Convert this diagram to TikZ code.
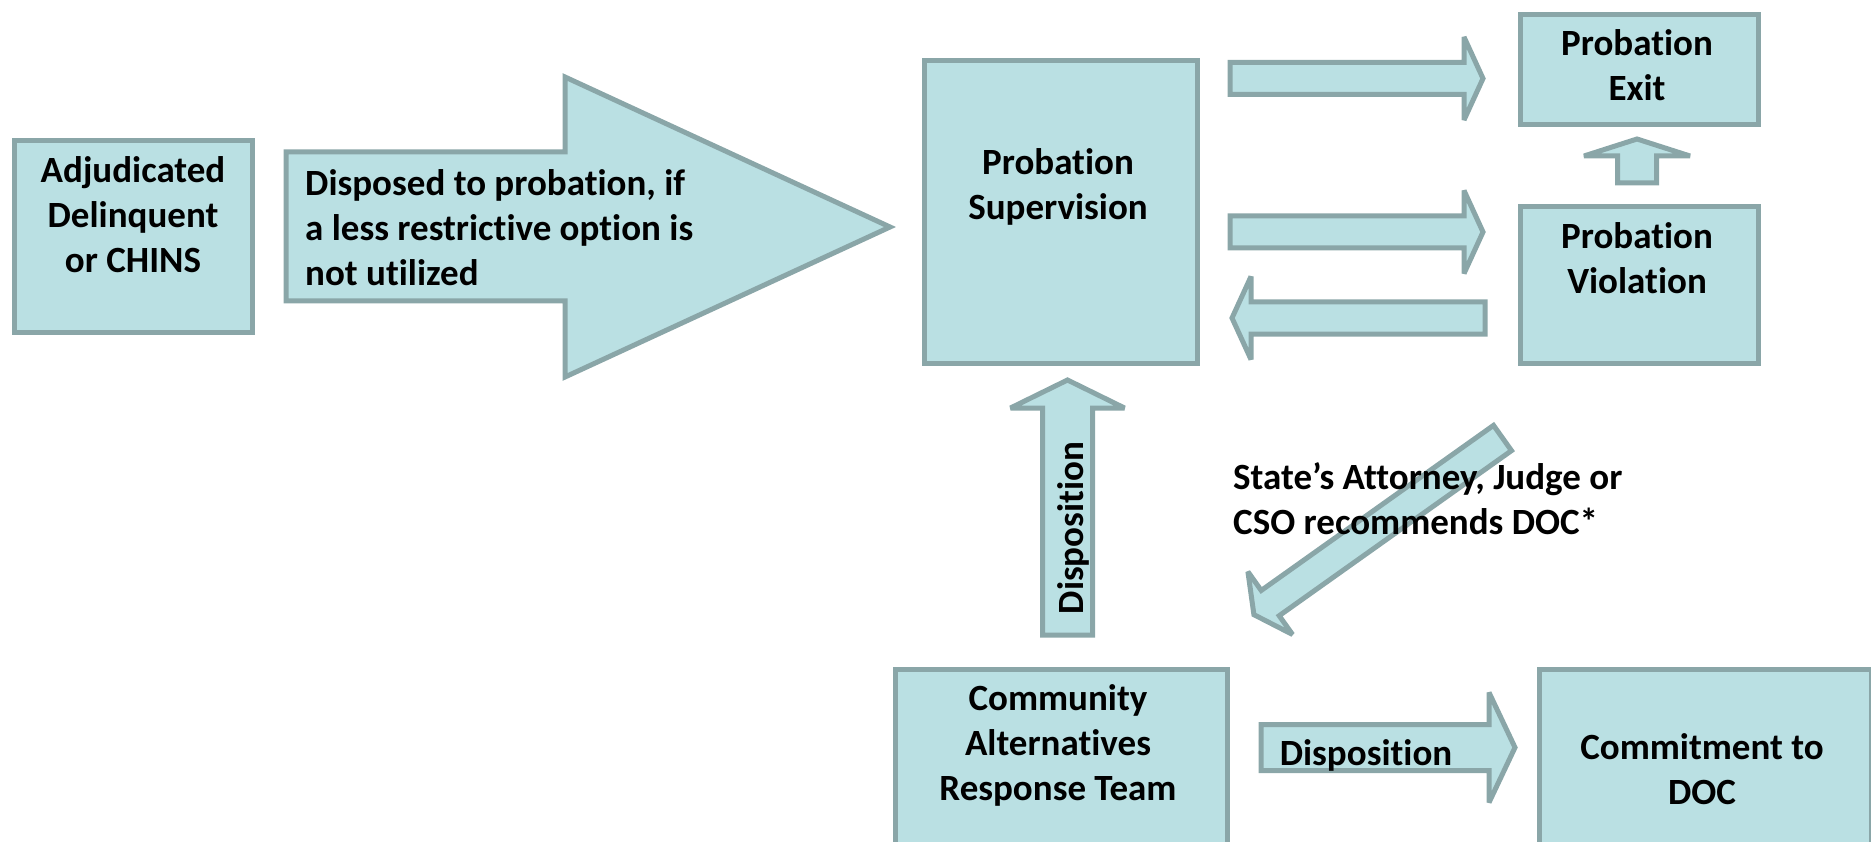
\documentclass[tikz,border=0pt]{standalone}
\usepackage{fontspec}
\setmainfont{Carlito}[Ligatures={NoCommon,NoContextual}]
\definecolor{boxfill}{RGB}{186,224,227}
\definecolor{boxline}{RGB}{138,166,168}
\tikzset{
  box/.style={draw=boxline,fill=boxfill,line width=5pt,anchor=north west,inner sep=0pt},
  blockarrow/.style={draw=boxline,fill=boxfill,line width=5pt,line join=miter,miter limit=4},
  lbl/.style={font=\fontsize{37}{45}\selectfont\bfseries,align=center,inner sep=0pt},
  pics/barrow/.style n args={4}{code={
    \draw[blockarrow] (0,-#2) -- ({#1-#4},-#2) -- ({#1-#4},-#3) -- (#1,0)
      -- ({#1-#4},#3) -- ({#1-#4},#2) -- (0,#2) -- cycle;
  }}
}
\begin{document}
\begin{tikzpicture}[x=1pt,y=-1pt]
\useasboundingbox (0,0) rectangle (1871,842);
\clip (0,0) rectangle (1871,842);

% boxes
\node[box,minimum width=238pt,minimum height=192pt] (adj) at (12,138) {};
\node[box,minimum width=273pt,minimum height=303pt] (sup) at (922,58) {};
\node[box,minimum width=238pt,minimum height=110pt] (exit) at (1518,12) {};
\node[box,minimum width=238pt,minimum height=157pt] (viol) at (1518,204) {};
\node[box,minimum width=332pt,minimum height=200pt] (cart) at (893,667) {};
\node[box,minimum width=332pt,minimum height=200pt] (doc) at (1537,667) {};

% big arrow
\draw[blockarrow] (286,152) -- (565,152) -- (565,77) -- (890,227) -- (565,377)
  -- (565,301) -- (286,301) -- cycle;

% block arrows
\pic at (1230,78.5) {barrow={253}{16}{41.5}{19}};
\pic at (1230,232) {barrow={253}{16}{41.5}{19}};
\pic[rotate=180] at (1485,318) {barrow={253}{16}{41.5}{19}};
\pic at (1261,747.5) {barrow={254}{23}{55}{26}};
\pic[rotate=90] at (1067.5,635) {barrow={255}{25}{57}{28}};
\pic[rotate=90] at (1637,183) {barrow={44}{19.5}{53}{17}};
\pic[rotate=215.4] at (1502.5,438) {barrow={305}{15.5}{38.5}{20}};

% texts
\node[lbl] (adjt) at (133,215) {Adjudicated\\Delinquent\\or CHINS};
\node[lbl,align=left,anchor=west] (dispt) at (305,228)
  {Disposed to probation, if\\a less restrictive option is\\not utilized};
\node[lbl] (supt) at (1058,187) {Probation\\Supervision};
\node[lbl] (exitt) at (1637,65) {Probation\\Exit};
\node[lbl] (violt) at (1637,258) {Probation\\Violation};
\node[lbl] (cartt) at (1058,745) {Community\\Alternatives\\Response Team};
\node[lbl] (doct) at (1702,769) {Commitment to\\DOC};
\node[lbl,align=left,anchor=west] (statet) at (1233,499)
  {State’s Attorney, Judge or\\CSO recommends DOC*};
\node[lbl,rotate=90] (dispup) at (1073,528) {Disposition};
\node[lbl] (dispr) at (1366,755) {Disposition};
\end{tikzpicture}
\end{document}
